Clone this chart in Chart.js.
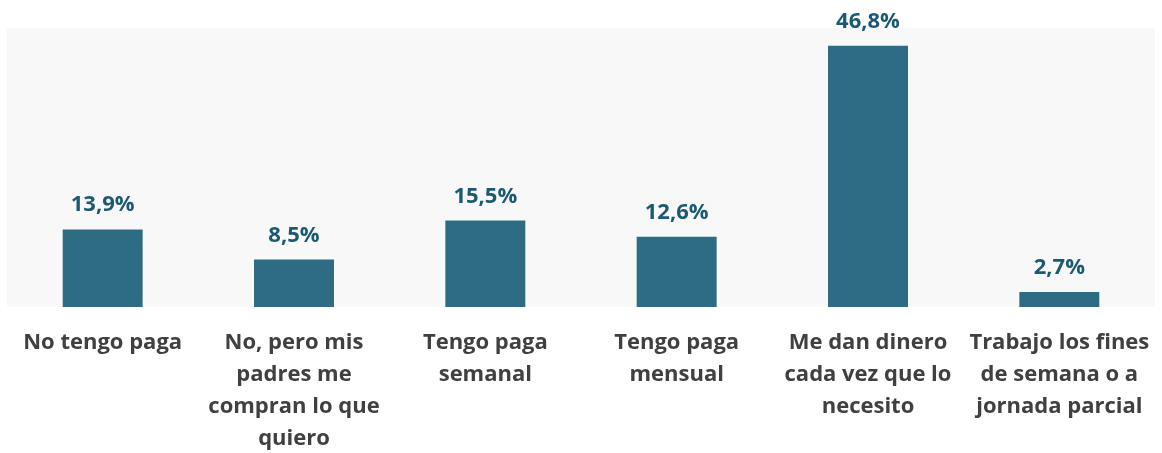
<!DOCTYPE html>
<html>
<head>
<meta charset="utf-8">
<script src="https://cdn.jsdelivr.net/npm/chart.js@4.4.1/dist/chart.umd.min.js"></script>
<style>
  html, body { margin: 0; padding: 0; background: #ffffff; }
  #wrap { width: 1162px; height: 453px; }
</style>
</head>
<body>
<div id="wrap"><canvas id="chart" width="1162" height="453"></canvas></div>
<script>
// Categories (each label split into its display lines)
const categories = [
  ['No tengo paga'],
  ['No, pero mis', 'padres me', 'compran lo que', 'quiero'],
  ['Tengo paga', 'semanal'],
  ['Tengo paga', 'mensual'],
  ['Me dan dinero', 'cada vez que lo', 'necesito'],
  ['Trabajo los fines', 'de semana o a', 'jornada parcial']
];
// Share of respondents, %
const shares = [13.9, 8.5, 15.5, 12.6, 46.8, 2.7];

const FONT = '"Open Sans", Lato, "DejaVu Sans", sans-serif';

// Light grey panel behind the bars
const panelBackground = {
  id: 'panelBackground',
  beforeDraw(chart) {
    const { ctx, chartArea: a } = chart;
    ctx.save();
    ctx.fillStyle = '#f8f8f8';
    ctx.fillRect(a.left, a.top, a.right - a.left, a.bottom - a.top);
    ctx.restore();
  }
};

// Percentage labels above each bar
const valueLabels = {
  id: 'valueLabels',
  afterDatasetsDraw(chart) {
    const { ctx } = chart;
    const meta = chart.getDatasetMeta(0);
    ctx.save();
    ctx.font = 'bold 22px ' + FONT;
    ctx.fillStyle = '#1b5a73';
    ctx.textAlign = 'center';
    ctx.textBaseline = 'alphabetic';
    meta.data.forEach((bar, i) => {
      const txt = shares[i].toFixed(1).replace('.', ',') + '%';
      ctx.fillText(txt, bar.x, bar.y - 18);
    });
    ctx.restore();
  }
};

new Chart(document.getElementById('chart'), {
  type: 'bar',
  data: {
    labels: categories,
    datasets: [{
      data: shares,
      backgroundColor: '#2d6c82',
      borderWidth: 0,
      categoryPercentage: 1,
      barPercentage: 0.418
    }]
  },
  options: {
    responsive: false,
    devicePixelRatio: 1,
    animation: false,
    layout: { padding: { left: 7, right: 7, top: 28, bottom: 0 } },
    plugins: {
      legend: { display: false },
      tooltip: { enabled: false }
    },
    scales: {
      y: {
        display: false,
        min: 0,
        max: 50
      },
      x: {
        grid: { display: false, drawTicks: false },
        border: { display: false },
        ticks: {
          color: '#404040',
          font: { family: FONT, size: 22, weight: 'bold', lineHeight: '32px' },
          padding: 20,
          maxRotation: 0,
          minRotation: 0,
          autoSkip: false
        },
        afterFit(scale) {
          // fixed label band; labels may run to the canvas edge
          scale.height = 146;
          scale.paddingLeft = 0;
          scale.paddingRight = 0;
        }
      }
    }
  },
  plugins: [panelBackground, valueLabels]
});
</script>
</body>
</html>
